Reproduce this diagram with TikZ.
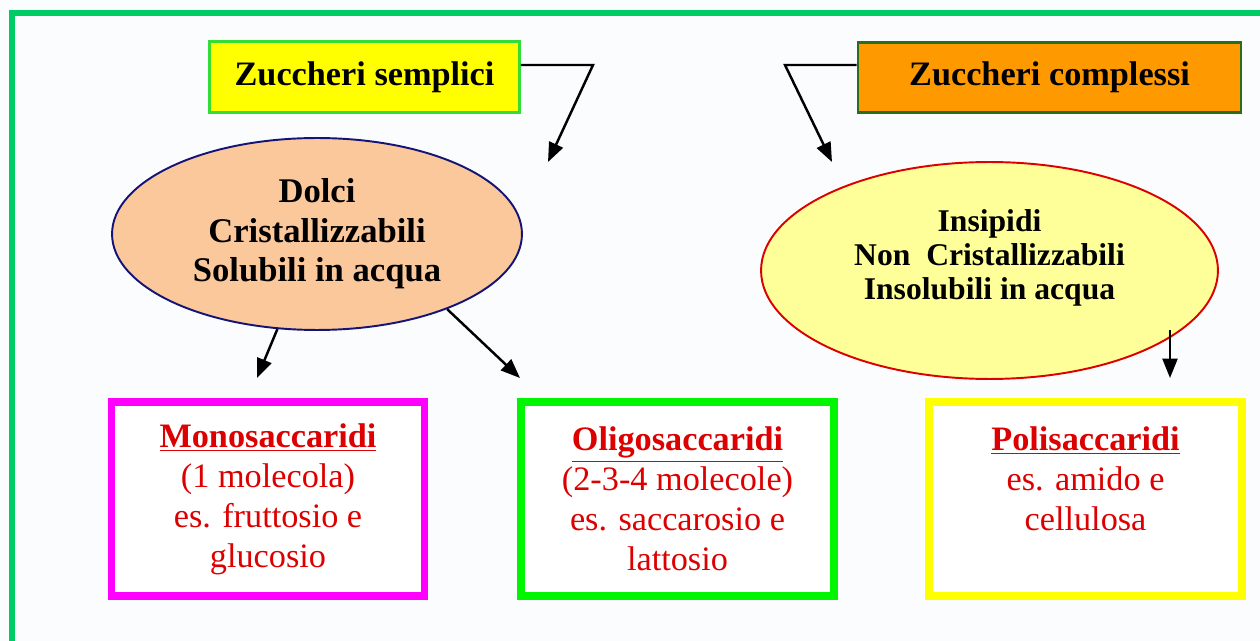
\documentclass[tikz,border=0pt]{standalone}
\usepackage{fontspec}
\setmainfont{Liberation Serif}
\usetikzlibrary{shapes.geometric,arrows.meta,positioning}

\definecolor{pagebg}{RGB}{250,252,253}
\definecolor{framegreen}{RGB}{0,204,102}
\definecolor{lightgreen}{RGB}{51,221,51}
\definecolor{darkgreen}{RGB}{40,110,30}
\definecolor{sugaryellow}{RGB}{255,255,0}
\definecolor{sugarorange}{RGB}{255,153,0}
\definecolor{peach}{RGB}{250,200,155}
\definecolor{navy}{RGB}{20,20,120}
\definecolor{paleyellow}{RGB}{255,255,153}
\definecolor{textred}{RGB}{220,0,0}
\definecolor{boxmagenta}{RGB}{255,0,255}
\definecolor{boxgreen}{RGB}{0,245,0}

\newcommand{\heading}[1]{\underline{\textbf{#1}}}

\begin{document}
\begin{tikzpicture}
[
  x=0.02cm, y=-0.02cm,
  title/.style={rectangle, line width=1.6pt, inner sep=0pt, minimum height=1.41cm,
    font=\fontsize{19.5pt}{22pt}\selectfont\bfseries},
  cloud/.style={ellipse, line width=1.1pt, inner sep=0pt, align=center},
  family/.style={rectangle, line width=4.5pt, fill=white, inner sep=0pt,
    minimum width=6.26cm, minimum height=3.88cm},
  redtext/.style={text=textred, align=center, inner sep=0pt,
    font=\fontsize{19.5pt}{22.7pt}\selectfont},
  arr/.style={-{Triangle[length=11pt,width=8.5pt]}, line width=1.4pt},
]
 \useasboundingbox (0,0) rectangle (1260,641);
 \fill[pagebg] (0,0) rectangle (1260,641);
 \draw[framegreen, line width=3.4pt] (1262,13) -- (12,13) -- (12,643);

 % top boxes
 \node[title, draw=lightgreen, fill=sugaryellow, minimum width=6.2cm] (semp) at (364.5,77) {Zuccheri semplici};
 \node[title, draw=darkgreen, fill=sugarorange, minimum width=7.66cm] (compl) at (1049.5,77.5) {Zuccheri complessi};

 % ellipses
 \node[cloud, draw=navy, fill=peach, minimum width=8.2cm, minimum height=3.84cm,
   font=\fontsize{19.7pt}{22.4pt}\selectfont\bfseries] (dolci) at (317,234)
   {Dolci\\Cristallizzabili\\Solubili in acqua};
 \node[cloud, draw=textred, fill=paleyellow, minimum width=9.14cm, minimum height=4.34cm] (insip) at (989.5,270.5) {};
 \node[align=center, inner sep=0pt, font=\fontsize{18pt}{19.5pt}\selectfont\bfseries] (insiptxt) at (989.5,258)
   {Insipidi\\Non\ \ Cristallizzabili\\Insolubili in acqua};

 % bottom boxes
 \node[family, draw=boxmagenta] (mono) at (268,499) {};
 \node[family, draw=boxgreen] (oligo) at (677.5,499) {};
 \node[family, draw=sugaryellow] (poli) at (1085.5,499) {};
 \node[redtext] (monotxt) at (268,499)
   {\heading{Monosaccaridi}\\(1 molecola)\\es. fruttosio e\\glucosio};
 \node[redtext] (oligotxt) at (677.5,499)
   {\heading{Oligosaccaridi}\\(2-3-4 molecole)\\es. saccarosio e\\lattosio};
 \node[redtext] (politxt) at (1085.5,479)
   {\heading{Polisaccaridi}\\es. amido e\\cellulosa};

 % arrows
 \coordinate (sbend) at (593,65);
 \coordinate (stip) at (548,162);
 \coordinate (cbend) at (785,65);
 \coordinate (ctip) at (832,162);
 \coordinate (monotip) at (257,378);
 \coordinate (oligotip) at (520,378);
 \coordinate (polistart) at (1170,330);
 \coordinate (politip) at (1170,378);

 \draw[arr] (semp.east |- sbend) -- (sbend) -- (stip);
 \draw[arr] (compl.west |- cbend) -- (cbend) -- (ctip);
 \draw[arr] (dolci) -- (monotip);
 \draw[arr] (dolci.-30) -- (oligotip);
 \draw[arr] (polistart) -- (politip);
\end{tikzpicture}
\end{document}
